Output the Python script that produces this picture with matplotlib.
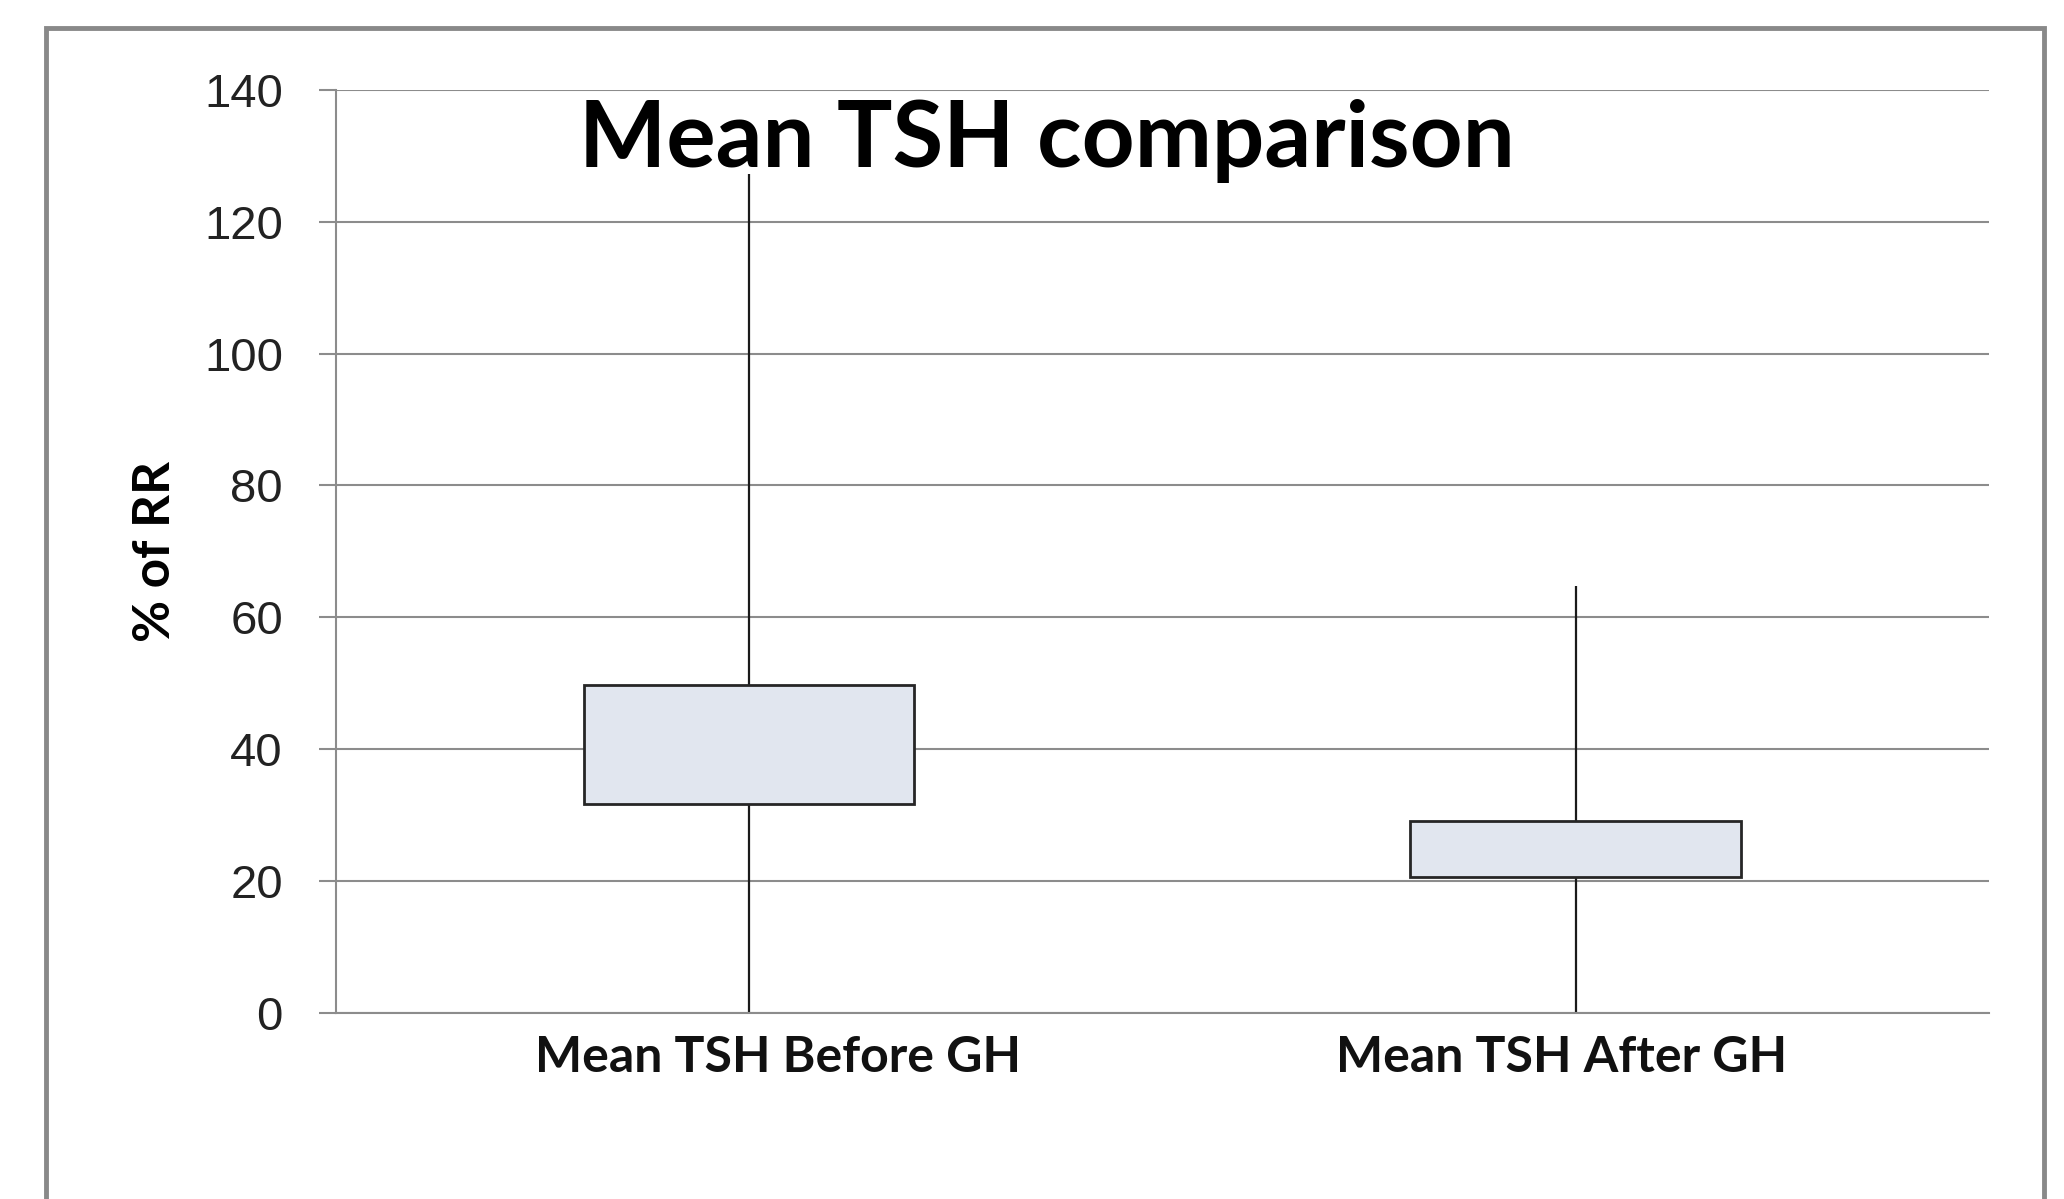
import matplotlib
matplotlib.use("Agg")
import matplotlib.pyplot as plt
from matplotlib.patches import Rectangle
import numpy as np

# ---- data ----
categories = ["Mean TSH Before GH", "Mean TSH After GH"]
q1 = [31.6, 20.6]
q3 = [49.7, 29.1]
whisker_low = [0.0, 0.0]
whisker_high = [127.2, 64.7]
yticks = [0, 20, 40, 60, 80, 100, 120, 140]
title = "Mean TSH comparison"
ylabel = "% of RR"

W, H = 2064, 1199
fig = plt.figure(figsize=(W / 100, H / 100), dpi=100)
fig.patch.set_facecolor("white")

# axes placement (pixel measurements from reference)
ax_l, ax_r, ax_t, ax_b = 335.7, 1989.0, 90.0, 1012.7
ax = fig.add_axes([ax_l / W, 1 - ax_b / H, (ax_r - ax_l) / W, (ax_b - ax_t) / H])

pos = np.arange(len(categories))
grid_c = "#8c8c8c"
box_fill = "#e1e6ef"

ax.set_ylim(0, 140)
ax.set_xlim(-0.5, 1.5)
ax.set_yticks(yticks)
ax.yaxis.grid(True, color=grid_c, linewidth=1.5)
ax.set_axisbelow(True)

for s in ["top", "right"]:
    ax.spines[s].set_visible(False)
for s in ["left", "bottom"]:
    ax.spines[s].set_color(grid_c)
    ax.spines[s].set_linewidth(1.5)

lows = np.array(whisker_low)
highs = np.array(whisker_high)
ax.vlines(pos, lows, highs, colors="#1a1a1a", linewidth=1.6, zorder=2)
ax.bar(pos, np.array(q3) - np.array(q1), bottom=q1, width=0.4,
       color=box_fill, edgecolor="#262626", linewidth=2.0, zorder=3)

ax.tick_params(axis="y", direction="out", length=12, width=1.5, color=grid_c,
               pad=26, labelsize=34, labelcolor="#222222")
for lab in ax.get_yticklabels():
    lab.set_family(["Liberation Sans", "DejaVu Sans"])

# category labels
label_pos = [0.035, 0.983]
ax.set_xticks(label_pos)
ax.set_xticklabels(categories, fontsize=36, fontweight="bold",
                   family=["Lato", "DejaVu Sans"], color="#111111")
ax.tick_params(axis="x", length=0, pad=16)

fig.text(1047 / W, 1 - 167 / H, title, ha="center", va="baseline",
         fontsize=66.5, fontweight="bold", family=["Lato", "DejaVu Sans"], color="black")
fig.text(155 / W, 1 - 551 / H, ylabel, ha="center", va="center", rotation=90,
         fontsize=37, fontweight="bold", family=["Lato", "DejaVu Sans"], color="black")

# outer chart-area frame
frame = Rectangle((46 / W, 1 - 1240 / H), (2044 - 46) / W, (1240 - 28) / H,
                  transform=fig.transFigure, fill=False, edgecolor="#898989",
                  linewidth=3.5, clip_on=False)
fig.add_artist(frame)

fig.savefig("out.png", dpi=100, facecolor="white")
